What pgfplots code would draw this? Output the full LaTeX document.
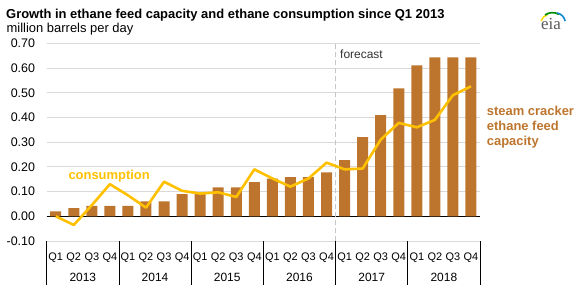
\documentclass[border=0pt]{standalone}
\usepackage{fontspec}
\setmainfont{Liberation Sans}
\newfontfamily\seriffont{Liberation Serif}
\usepackage{pgfplots}
\pgfplotsset{compat=1.18}
\definecolor{barc}{HTML}{BD752D}
\definecolor{linec}{HTML}{FFC000}
\definecolor{gridc}{HTML}{D9D9D9}

\begin{document}
\begin{tikzpicture}
\path[use as bounding box] (0bp,0bp) rectangle (579bp,287bp);
\begin{axis}[
    at={(46.7bp,46bp)}, anchor=south west,
    width=433.3bp, height=197.7bp, scale only axis,
    xmin=-0.5, xmax=23.5, ymin=-0.1, ymax=0.7,
    clip=false,
    axis line style={draw=none},
    tick style={draw=none},
    major tick length=0pt,
    tick pos=left,
    ymajorgrids, grid style={gridc, line width=0.8bp},
    ytick={-0.1,0,0.1,0.2,0.3,0.4,0.5,0.6,0.7},
    yticklabel style={anchor=east, inner sep=0pt, xshift=-11.5bp, font=\fontsize{12.5}{14}\selectfont},
    /pgf/number format/assume math mode=true,
    /pgf/number format/.cd, fixed, fixed zerofill, precision=2, /pgfplots/.cd,
    xtick={0,...,23},
    xticklabels={Q1,Q2,Q3,Q4,Q1,Q2,Q3,Q4,Q1,Q2,Q3,Q4,Q1,Q2,Q3,Q4,Q1,Q2,Q3,Q4,Q1,Q2,Q3,Q4},
    xticklabel style={anchor=base, inner sep=0pt, yshift=-19.7bp, font=\fontsize{11}{13}\selectfont},
    extra x ticks={-0.5,3.5,7.5,11.5,15.5,19.5,23.5},
    extra x tick labels={},
    extra x tick style={major tick length=44bp, tick align=outside, tick style={draw=black, line width=0.7bp}},
    extra y ticks={0},
    extra y tick labels={},
    extra y tick style={grid style={black, line width=0.9bp}},
]
\draw[gray!45, dash pattern=on 5bp off 3bp, line width=0.8bp] (axis cs:15.5,-0.1) -- (axis cs:15.5,0.7);

\addplot[ybar, bar width=11bp, fill=barc, draw=none] coordinates {
  (0,0.020) (1,0.033) (2,0.042) (3,0.042)
  (4,0.042) (5,0.060) (6,0.060) (7,0.090)
  (8,0.090) (9,0.117) (10,0.117) (11,0.138)
  (12,0.152) (13,0.158) (14,0.158) (15,0.178)
  (16,0.227) (17,0.320) (18,0.409) (19,0.518)
  (20,0.611) (21,0.643) (22,0.643) (23,0.643)
};
\addplot[linec, line width=2.6bp, line join=round, mark=none] coordinates {
  (0,0.000) (1,-0.035) (2,0.045) (3,0.130)
  (4,0.085) (5,0.035) (6,0.140) (7,0.103)
  (8,0.092) (9,0.097) (10,0.078) (11,0.190)
  (12,0.153) (13,0.120) (14,0.153) (15,0.217)
  (16,0.190) (17,0.193) (18,0.310) (19,0.378)
  (20,0.360) (21,0.390) (22,0.490) (23,0.526)
};

\node[anchor=base, yshift=-40bp, font=\fontsize{12}{14}\selectfont] at (axis cs:1.5,-0.1) {2013};
\node[anchor=base, yshift=-40bp, font=\fontsize{12}{14}\selectfont] at (axis cs:5.5,-0.1) {2014};
\node[anchor=base, yshift=-40bp, font=\fontsize{12}{14}\selectfont] at (axis cs:9.5,-0.1) {2015};
\node[anchor=base, yshift=-40bp, font=\fontsize{12}{14}\selectfont] at (axis cs:13.5,-0.1) {2016};
\node[anchor=base, yshift=-40bp, font=\fontsize{12}{14}\selectfont] at (axis cs:17.5,-0.1) {2017};
\node[anchor=base, yshift=-40bp, font=\fontsize{12}{14}\selectfont] at (axis cs:21.5,-0.1) {2018};
\end{axis}

% titles
\node[anchor=base west, inner sep=0pt, font=\fontsize{13}{15}\selectfont\bfseries] at (6bp,268.7bp)
  {Growth in ethane feed capacity and ethane consumption since Q1 2013};
\node[anchor=base west, inner sep=0pt, font=\fontsize{13}{15}\selectfont] at (6.5bp,254.7bp)
  {million barrels per day};

% annotations
\node[anchor=base west, inner sep=0pt, font=\fontsize{12}{14}\selectfont, text=black!80] at (340bp,228bp) {forecast};
\node[anchor=base west, inner sep=0pt, font=\fontsize{13}{15}\selectfont\bfseries, text=linec] at (68.3bp,107.5bp) {consumption};
\node[anchor=base west, inner sep=0pt, font=\fontsize{13}{15}\selectfont\bfseries, text=barc] at (486.7bp,171bp) {steam cracker};
\node[anchor=base west, inner sep=0pt, font=\fontsize{13}{15}\selectfont\bfseries, text=barc] at (486.7bp,156bp) {ethane feed};
\node[anchor=base west, inner sep=0pt, font=\fontsize{13}{15}\selectfont\bfseries, text=barc] at (486.7bp,141bp) {capacity};

% eia logo
\node[anchor=base west, inner sep=0pt, font=\seriffont\fontsize{17}{19}\selectfont, text=black!65] at (541bp,257.5bp) {eia};
\draw[line width=1.6bp, yellow!80!orange] (541bp,266bp) arc[start angle=160, end angle=110, radius=11bp];
\draw[line width=1.6bp, green!55!black] (545bp,272bp) arc[start angle=125, end angle=60, radius=13bp];
\draw[line width=1.6bp, cyan!70!blue] (557bp,274bp) arc[start angle=80, end angle=10, radius=10bp];
\end{tikzpicture}
\end{document}
